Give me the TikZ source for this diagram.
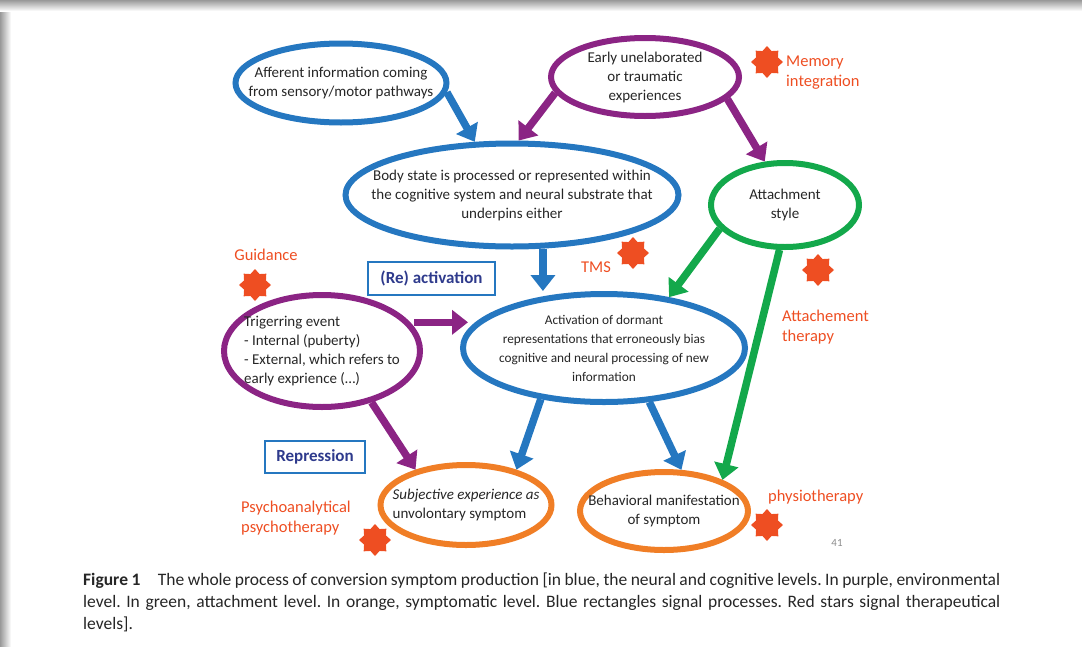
\documentclass[tikz,border=0pt]{standalone}
\usepackage{fontspec}
\setmainfont{Carlito}
\usetikzlibrary{shapes.geometric,arrows.meta}
\definecolor{nblue}{HTML}{2577C0}
\definecolor{epurple}{HTML}{8B2484}
\definecolor{agreen}{HTML}{13A84B}
\definecolor{sorange}{HTML}{F07E26}
\definecolor{tred}{HTML}{EE4E22}
\definecolor{pnavy}{HTML}{2E3A8C}
\definecolor{ink}{HTML}{262626}
\begin{document}
\begin{tikzpicture}[x=1pt,y=-1pt,
    bubble/.style={ellipse, line width=6pt, inner sep=-40pt, align=center, text=ink, font=\fontsize{15}{19}\selectfont},
    flow/.style={line width=7.5pt, -{Triangle[length=16pt,width=24pt]}},
    burst/.style={star, star points=8, star point ratio=1.35, fill=tred, minimum size=32pt, inner sep=0pt},
    therapy/.style={text=tred, font=\fontsize{16.5}{20}\selectfont, align=left, inner sep=0pt},
    procbox/.style={draw=nblue, line width=1.2pt, text=pnavy, font=\bfseries\fontsize{17}{20}\selectfont, minimum height=33pt}]
    \useasboundingbox (0,0) rectangle (1082,646);
    % slide shadow
    \shade[left color=black!40, right color=white] (0,0) rectangle (11,646);
    \shade[top color=black!40, bottom color=white] (0,0) rectangle (1082,11);
    % levels
    \node[bubble, draw=nblue, minimum width=211pt, minimum height=79pt] (aff) at (341,83) {Afferent information coming\\from sensory/motor pathways};
    \node[bubble, draw=epurple, minimum width=188pt, minimum height=78pt] (early) at (645,77) {Early unelaborated\\or traumatic\\experiences};
    \node[bubble, draw=nblue, minimum width=333pt, minimum height=103pt] (body) at (512,195) {Body state is processed or represented within\\the cognitive system and neural substrate that\\underpins either};
    \node[bubble, draw=agreen, minimum width=148pt, minimum height=84pt] (att) at (785,205) {Attachment\\style};
    \node[bubble, draw=epurple, minimum width=196pt, minimum height=112pt, align=left] (trig) at (322,351) {Trigerring event\\- Internal (puberty)\\- External, which refers to\\early exprience (…)};
    \node[bubble, draw=nblue, minimum width=282pt, minimum height=108pt, font=\fontsize{13.3}{19}\selectfont] (act) at (604,348) {Activation of dormant\\representations that erroneously bias\\cognitive and neural processing of new\\information};
    \node[bubble, draw=sorange, minimum width=171pt, minimum height=80pt, align=left] (subj) at (466,505) {\textit{Subjective experience as}\\unvolontary symptom};
    \node[bubble, draw=sorange, minimum width=168pt, minimum height=78pt] (beh) at (664,511) {Behavioral manifestation\\of symptom};
    % processes
    \node[procbox, minimum width=127pt] (react) at (431.5,278.5) {(Re) activation};
    \node[procbox, minimum width=100pt, minimum height=32pt] (repr) at (315,457) {Repression};
    % therapies
    \node[burst] (smem) at (767,62) {};
    \node[burst] (stms) at (633,253) {};
    \node[burst] (satt) at (818,270) {};
    \node[burst] (sgui) at (255,285) {};
    \node[burst] (spsy) at (375,540) {};
    \node[burst] (sphy) at (767,525) {};
    \node[therapy, anchor=west] (lmem) at (786,73) {Memory\\integration};
    \node[therapy, anchor=west] (latt) at (782,327) {Attachement\\therapy};
    \node[therapy] (ltms) at (596,267) {TMS};
    \node[therapy] (lgui) at (266,255) {Guidance};
    \node[therapy, anchor=west] (lpsy) at (241,518) {Psychoanalytical\\psychotherapy};
    \node[therapy, anchor=west] (lphy) at (768,497) {physiotherapy};
    \node[text=black!45, font=\fontsize{11}{13}\selectfont] (pnum) at (837,543) {41};
    % links
    \coordinate (actin) at ([xshift=8pt]act.west);
    \draw[flow, nblue] (aff.-5) -- (body.125);
    \draw[flow, epurple] (early.190) -- (body.83);
    \draw[flow, epurple] (early.-15) -- (att.115);
    \draw[flow, nblue] (body.-60) -- (body.-60 |- act.north);
    \draw[flow, agreen] (att.200) -- (act.38);
    \draw[flow, agreen] (att.-97) -- (beh.28);
    \draw[flow, epurple] ([xshift=4pt]trig.18) -- (actin |- trig.18);
    \draw[flow, epurple] (trig.-46) -- (subj.145);
    \draw[flow, nblue] (act.-141) -- (subj.35);
    \draw[flow, nblue] (act.-50) -- (beh.67);
    % caption
    \node[anchor=north west, text width=917pt, align=justify, inner sep=0pt, text=ink, font=\fontsize{17.5}{22}\selectfont\frenchspacing] (cap) at (83,573) {\textbf{Figure 1}\quad The whole process of conversion symptom production [in blue, the neural and cognitive levels. In purple, environmental\linebreak level. In green, attachment level. In orange, symptomatic level. Blue rectangles signal processes. Red stars signal therapeutical\linebreak levels].};
\end{tikzpicture}
\end{document}
